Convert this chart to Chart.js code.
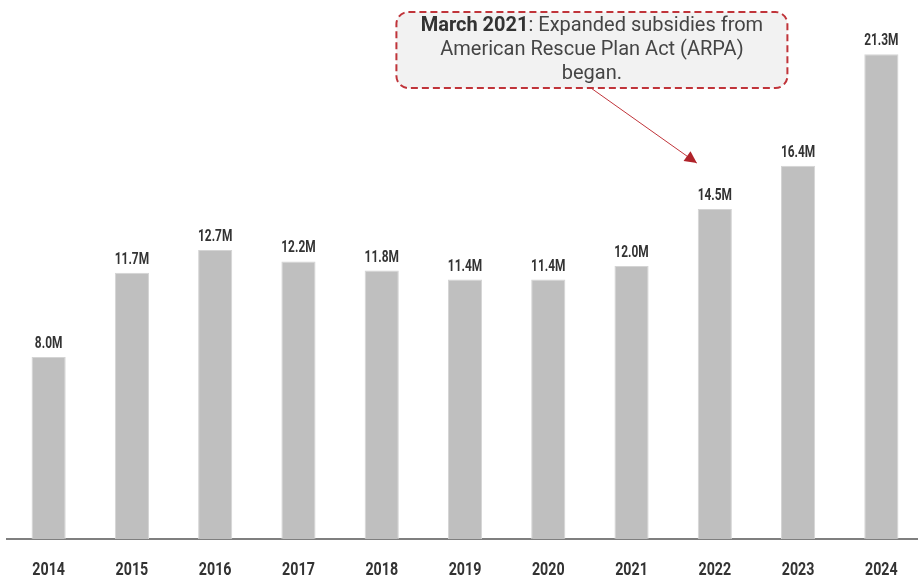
<!DOCTYPE html>
<html>
<head>
<meta charset="utf-8">
<script src="https://cdn.jsdelivr.net/npm/chart.js@4.4.1/dist/chart.umd.min.js"></script>
<style>
  html, body { margin: 0; padding: 0; background: #fff; overflow: hidden; }
  #wrap { width: 930px; height: 578px; position: relative; }
</style>
</head>
<body>
<div id="wrap"><canvas id="chart"></canvas></div>
<script>
// enrollment by year (millions)
const years = ["2014", "2015", "2016", "2017", "2018", "2019", "2020", "2021", "2022", "2023", "2024"];
const enrolled = [8.0, 11.7, 12.7, 12.2, 11.8, 11.4, 11.4, 12.0, 14.5, 16.4, 21.3];
const noteBold = "March 2021";
const noteLines = [": Expanded subsidies from", "American Rescue Plan Act (ARPA)", "began."];
const noteTarget = "2022";

// narrow bold text (no condensed font installed, so squeeze Roboto a bit)
function narrowText(ctx, txt, x, y, font, sx) {
  ctx.save();
  ctx.font = font;
  ctx.translate(x, y);
  ctx.scale(sx, 1);
  ctx.textAlign = "center";
  ctx.textBaseline = "alphabetic";
  ctx.fillText(txt, 0, 0);
  ctx.restore();
}

/* value labels on top of bars + year labels under axis */
const barLabels = {
  id: "barLabels",
  afterDatasetsDraw(chart) {
    const ctx = chart.ctx;
    const meta = chart.getDatasetMeta(0);
    const xs = chart.scales.x;
    ctx.save();
    ctx.fillStyle = "#333333";
    meta.data.forEach((bar, i) => {
      narrowText(ctx, enrolled[i].toFixed(1) + "M", bar.x, bar.y - 9, "bold 17px Roboto, sans-serif", 0.7);
    });
    years.forEach((y, i) => {
      narrowText(ctx, y, xs.getPixelForValue(i), chart.chartArea.bottom + 36, "bold 19px Roboto, sans-serif", 0.75);
    });
    ctx.restore();
  }
};

/* callout box + arrow */
const callout = {
  id: "callout",
  afterDraw(chart) {
    const ctx = chart.ctx;
    const xs = chart.scales.x, ys = chart.scales.y;
    const cx = (xs.getPixelForValue(6) + xs.getPixelForValue(7)) / 2 + 2;
    const top = 12, h = 76, w = 391;
    const left = cx - w / 2;

    ctx.save();
    // box
    ctx.beginPath();
    ctx.roundRect(left, top, w, h, 12);
    ctx.fillStyle = "#f2f2f2";
    ctx.fill();
    ctx.setLineDash([7, 4]);
    ctx.lineWidth = 2;
    ctx.strokeStyle = "#c0343a";
    ctx.stroke();
    ctx.setLineDash([]);

    // text
    const regFont = "20px Roboto, sans-serif";
    const boldFont = "bold 20px Roboto, sans-serif";
    ctx.textBaseline = "middle";
    ctx.font = boldFont;
    const bw = ctx.measureText(noteBold).width;
    ctx.font = regFont;
    const rw = ctx.measureText(noteLines[0]).width;
    let x0 = cx - (bw + rw) / 2;
    ctx.textAlign = "left";
    ctx.font = boldFont;
    ctx.fillStyle = "#333333";
    ctx.fillText(noteBold, x0, top + 14);
    ctx.font = regFont;
    ctx.fillStyle = "#454545";
    ctx.fillText(noteLines[0], x0 + bw, top + 14);
    ctx.textAlign = "center";
    ctx.fillText(noteLines[1], cx, top + 38);
    ctx.fillText(noteLines[2], cx, top + 62);

    // arrow
    const idx = years.indexOf(noteTarget);
    const tx = xs.getPixelForValue(idx) - 18;
    const ty = ys.getPixelForValue(enrolled[idx]) - 46;
    const sx = cx - 1, sy = top + h;
    ctx.beginPath();
    ctx.moveTo(sx, sy);
    ctx.lineTo(tx, ty);
    ctx.lineWidth = 1;
    ctx.strokeStyle = "#c0343a";
    ctx.stroke();
    const ang = Math.atan2(ty - sy, tx - sx);
    const len = 12, half = 6;
    ctx.beginPath();
    ctx.moveTo(tx, ty);
    ctx.lineTo(tx - len * Math.cos(ang) + half * Math.sin(ang), ty - len * Math.sin(ang) - half * Math.cos(ang));
    ctx.lineTo(tx - len * Math.cos(ang) - half * Math.sin(ang), ty - len * Math.sin(ang) + half * Math.cos(ang));
    ctx.closePath();
    ctx.fillStyle = "#b0232a";
    ctx.fill();
    ctx.restore();
  }
};

new Chart(document.getElementById("chart"), {
  type: "bar",
  data: {
    labels: years,
    datasets: [{
      data: enrolled,
      backgroundColor: "#bfbfbf",
      borderColor: "#d4d4d4",
      borderWidth: 1,
      barPercentage: 0.41,
      categoryPercentage: 1
    }]
  },
  options: {
    responsive: true,
    maintainAspectRatio: false,
    animation: false,
    layout: { padding: { left: 7, right: 7, top: 10, bottom: 39 } },
    plugins: { legend: { display: false }, tooltip: { enabled: false } },
    scales: {
      x: {
        grid: { display: false, drawTicks: false },
        border: { display: true, color: "#7f7f7f", width: 2 },
        ticks: { display: false }
      },
      y: {
        display: false,
        min: 0,
        max: 23.25
      }
    }
  },
  plugins: [barLabels, callout]
});
</script>
</body>
</html>
